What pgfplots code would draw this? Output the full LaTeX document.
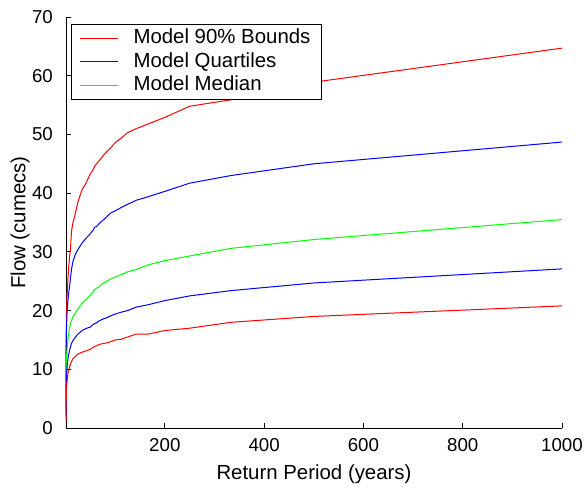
\documentclass[border=0pt]{standalone}
\usepackage{pgfplots}
\usepackage{pgfplotstable}
\pgfplotsset{compat=1.18}
\usepackage{fontspec}
\setmainfont{Liberation Sans}
\pgfplotstableread{
x      r1    b1    g     b2    r2
1.0    6.0   3.0   3.5   2.0   1.2
1.05   9.0   7.0   5.5   3.5   2.0
1.2    13.0  11.0  8.0   5.5   3.5
1.5    16.5  14.5  10.0  7.5   5.0
2      19.5  17.0  11.8  9.0   6.5
3      22.3  19.5  13.3  10.3  7.8
4      24.0  20.8  14.4  11.2  8.6
5      25.5  21.8  15.2  11.8  9.3
6      27.0  22.8  16.0  12.4  9.8
8      29.0  24.0  17.0  13.2  10.4
10     30.5  25.5  17.8  13.8  10.9
12     33.5  27.0  18.2  14.4  11.3
15     35.0  28.4  19.0  14.9  11.8
20     36.6  29.6  19.6  15.5  12.2
25     38.5  30.4  20.3  16.0  12.6
33.3   40.6  31.5  21.2  16.6  12.9
40     41.5  32.2  21.8  16.9  13.1
50     43.3  33.1  22.6  17.2  13.4
52.6   43.6  33.4  22.9  17.4  13.6
55.6   44.0  33.7  23.2  17.6  13.7
58.8   44.6  34.2  23.6  17.8  13.9
62.5   45.0  34.3  23.8  17.9  14.0
66.7   45.4  34.7  24.0  18.2  14.2
71.4   45.9  35.1  24.4  18.4  14.3
76.9   46.5  35.5  24.7  18.6  14.4
83.3   47.1  36.0  25.0  18.8  14.5
90.9   47.7  36.6  25.4  19.1  14.7
100    48.6  37.0  25.7  19.4  15.0
111.1  49.3  37.5  26.1  19.7  15.1
125    50.3  38.1  26.6  20.0  15.5
142.9  51.0  38.8  27.0  20.6  16.0
166.7  51.8  39.4  27.8  21.0  16.0
200    52.9  40.3  28.5  21.7  16.6
250    54.8  41.7  29.3  22.5  17.0
333.3  55.9  43.0  30.6  23.4  18.0
500    58.9  45.0  32.1  24.7  19.0
1000   64.7  48.7  35.5  27.1  20.8
}\flowdata
\begin{document}
\begin{tikzpicture}
\begin{axis}[
  scale only axis,
  width=496pt, height=411pt,
  xmin=1, xmax=1000, ymin=0, ymax=70,
  axis lines*=left,
  axis line style={black, line width=1pt},
  xtick={200,400,600,800,1000},
  ytick={0,10,20,30,40,50,60,70},
  tick align=inside,
  major tick length=5pt,
  tick style={black, line width=0.8pt},
  /pgf/number format/assume math mode=true,
  /pgf/number format/1000 sep={},
  ticklabel style={font=\fontsize{18.7}{22}\selectfont, inner sep=0pt},
  xticklabel style={anchor=base, yshift=-23.3pt},
  yticklabel style={anchor=east, xshift=-13pt},
  xlabel={Return Period (years)},
  ylabel={Flow (cumecs)},
  label style={font=\fontsize{20.4}{24}\selectfont},
  xlabel style={at={(axis description cs:0.5,-0.1265)}, anchor=base},
  ylabel style={at={(axis description cs:-0.0927,0.5)}, anchor=center},
  legend style={at={(rel axis cs:0.0101,0.983)}, anchor=north west,
    draw=black, line width=1pt, fill=white, inner xsep=8pt, inner ysep=2.5pt,
    font=\fontsize{20.4}{24}\selectfont,
    row sep=0pt,
    nodes={inner ysep=2pt, inner xsep=3pt, text height=15pt, text depth=4.3pt},
    /tikz/every odd column/.append style={column sep=12pt}},
  legend cell align=left,
  legend image code/.code={\draw[#1, line width=1pt] (0pt,0pt) -- (38pt,0pt);},
  clip=false,
]
\addplot[red, line width=1pt] table[x=x, y=r1] {\flowdata};
\addlegendentry{Model 90\% Bounds}
\addplot[blue, line width=1pt] table[x=x, y=b1] {\flowdata};
\addlegendentry{Model Quartiles}
\addplot[green, line width=1pt] table[x=x, y=g] {\flowdata};
\addlegendentry{Model Median}
\addplot[blue, line width=1pt, forget plot] table[x=x, y=b2] {\flowdata};
\addplot[red, line width=1pt, forget plot] table[x=x, y=r2] {\flowdata};
\path (rel axis cs:-0.1331,-0.146) rectangle (rel axis cs:1.0484,1.0414);
\end{axis}
\end{tikzpicture}
\end{document}
